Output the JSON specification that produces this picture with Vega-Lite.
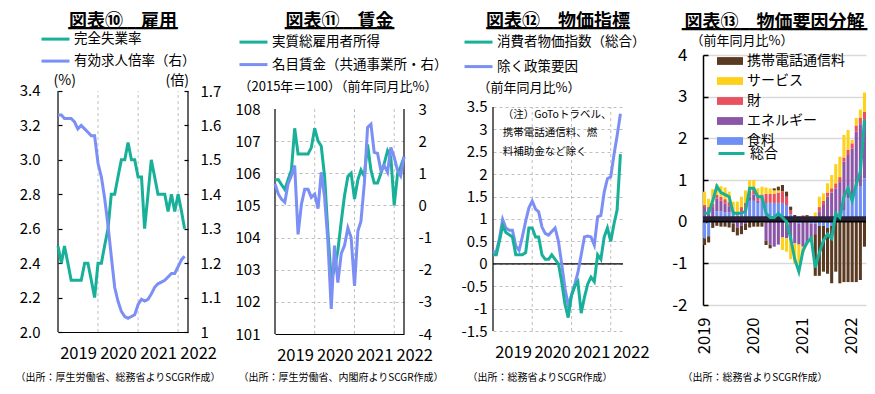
{
 "$schema": "https://vega.github.io/schema/vega-lite/v6.json",
 "padding": {"left": 15, "top": 13, "right": 0, "bottom": 0},
 "background": "white",
 "config": {
  "font": "Noto Sans CJK JP",
  "view": {"stroke": null},
  "axis": {"labelColor": "#000", "titleColor": "#000", "titleFontWeight": "normal", "labelFont": "Noto Sans CJK JP", "titleFont": "Noto Sans CJK JP", "domainColor": "#000", "tickColor": "#000", "titleLimit": 400, "labelLimit": 100, "labelOverlap": false},
  "legend": {"labelColor": "#000", "labelFont": "Noto Sans CJK JP", "labelLimit": 300},
  "title": {"fontSize": 18, "fontWeight": "bold", "color": "#000", "font": "Noto Sans CJK JP", "subtitleFont": "DejaVu Sans Mono", "subtitleFontSize": 14, "subtitleColor": "#000", "subtitlePadding": -9, "anchor": "middle", "frame": "group"},
  "locale": {"number": {"decimal": ".", "thousands": ",", "grouping": [3], "currency": ["", ""], "minus": "-"}}
 },
 "datasets": {
  "emp": [
   {"d":"2019-01-01","u":2.5,"r":1.63},{"d":"2019-02-01","u":2.4,"r":1.63},{"d":"2019-03-01","u":2.5,"r":1.62},{"d":"2019-04-01","u":2.4,"r":1.62},{"d":"2019-05-01","u":2.3,"r":1.62},{"d":"2019-06-01","u":2.3,"r":1.61},{"d":"2019-07-01","u":2.3,"r":1.59},{"d":"2019-08-01","u":2.3,"r":1.6},{"d":"2019-09-01","u":2.4,"r":1.59},{"d":"2019-10-01","u":2.4,"r":1.58},{"d":"2019-11-01","u":2.3,"r":1.57},{"d":"2019-12-01","u":2.2,"r":1.57},
   {"d":"2020-01-01","u":2.4,"r":1.49},{"d":"2020-02-01","u":2.4,"r":1.45},{"d":"2020-03-01","u":2.5,"r":1.39},{"d":"2020-04-01","u":2.6,"r":1.31},{"d":"2020-05-01","u":2.8,"r":1.22},{"d":"2020-06-01","u":2.8,"r":1.13},{"d":"2020-07-01","u":2.9,"r":1.09},{"d":"2020-08-01","u":3.0,"r":1.06},{"d":"2020-09-01","u":3.0,"r":1.045},{"d":"2020-10-01","u":3.1,"r":1.04},{"d":"2020-11-01","u":3.0,"r":1.045},{"d":"2020-12-01","u":3.0,"r":1.05},
   {"d":"2021-01-01","u":2.9,"r":1.08},{"d":"2021-02-01","u":2.9,"r":1.095},{"d":"2021-03-01","u":2.6,"r":1.09},{"d":"2021-04-01","u":2.8,"r":1.095},{"d":"2021-05-01","u":3.0,"r":1.11},{"d":"2021-06-01","u":2.9,"r":1.13},{"d":"2021-07-01","u":2.8,"r":1.14},{"d":"2021-08-01","u":2.8,"r":1.145},{"d":"2021-09-01","u":2.8,"r":1.15},{"d":"2021-10-01","u":2.7,"r":1.16},{"d":"2021-11-01","u":2.8,"r":1.17},{"d":"2021-12-01","u":2.7,"r":1.17},
   {"d":"2022-01-01","u":2.8,"r":1.19},{"d":"2022-02-01","u":2.7,"r":1.21},{"d":"2022-03-01","u":2.6,"r":1.22}
  ],
  "wage": [
   {"d":"2019-01-01","w":105.8,"n":0.67},{"d":"2019-02-01","w":105.8,"n":0.35},{"d":"2019-03-01","w":105.65,"n":0.2},{"d":"2019-04-01","w":105.5,"n":0.1},{"d":"2019-05-01","w":105.8,"n":0.67},{"d":"2019-06-01","w":106.1,"n":0.93},{"d":"2019-07-01","w":107.4,"n":1.24},{"d":"2019-08-01","w":106.6,"n":-0.9},{"d":"2019-09-01","w":106.6,"n":0.04},{"d":"2019-10-01","w":106.6,"n":0.5},{"d":"2019-11-01","w":106.6,"n":0.5},{"d":"2019-12-01","w":106.8,"n":0.25},
   {"d":"2020-01-01","w":107.4,"n":0.35},{"d":"2020-02-01","w":107.0,"n":-0.1},{"d":"2020-03-01","w":106.85,"n":1.03},{"d":"2020-04-01","w":105.9,"n":0.25},{"d":"2020-05-01","w":104.2,"n":-1.1},{"d":"2020-06-01","w":102.7,"n":-3.22},{"d":"2020-07-01","w":103.0,"n":-1.25},{"d":"2020-08-01","w":103.6,"n":-2.4},{"d":"2020-09-01","w":104.5,"n":-1.5},{"d":"2020-10-01","w":105.3,"n":-1.25},{"d":"2020-11-01","w":105.9,"n":-0.7},{"d":"2020-12-01","w":106.0,"n":-1.0},
   {"d":"2021-01-01","w":105.2,"n":-2.5},{"d":"2021-02-01","w":105.8,"n":-0.8},{"d":"2021-03-01","w":106.1,"n":-0.5},{"d":"2021-04-01","w":105.9,"n":0.67},{"d":"2021-05-01","w":106.9,"n":2.43},{"d":"2021-06-01","w":106.1,"n":2.53},{"d":"2021-07-01","w":105.7,"n":1.65},{"d":"2021-08-01","w":105.7,"n":1.62},{"d":"2021-09-01","w":106.0,"n":1.08},{"d":"2021-10-01","w":106.3,"n":1.24},{"d":"2021-11-01","w":106.7,"n":1.03},{"d":"2021-12-01","w":106.5,"n":1.8},
   {"d":"2022-01-01","w":105.0,"n":1.5},{"d":"2022-02-01","w":106.0,"n":1.08},{"d":"2022-03-01","w":106.2,"n":0.92},{"d":"2022-04-01","w":106.5,"n":1.52}
  ],
  "cpi": [
   {"d":"2019-01-01","c":0.2,"p":0.27},{"d":"2019-02-01","c":0.2,"p":0.27},{"d":"2019-03-01","c":0.5,"p":0.55},{"d":"2019-04-01","c":0.85,"p":0.99},{"d":"2019-05-01","c":0.7,"p":0.8},{"d":"2019-06-01","c":0.65,"p":0.75},{"d":"2019-07-01","c":0.6,"p":0.75},{"d":"2019-08-01","c":0.2,"p":0.4},{"d":"2019-09-01","c":0.2,"p":0.3},{"d":"2019-10-01","c":0.2,"p":0.6},{"d":"2019-11-01","c":0.25,"p":0.95},{"d":"2019-12-01","c":0.8,"p":1.25},
   {"d":"2020-01-01","c":0.8,"p":1.4},{"d":"2020-02-01","c":0.6,"p":1.22},{"d":"2020-03-01","c":0.6,"p":1.16},{"d":"2020-04-01","c":0.2,"p":0.82},{"d":"2020-05-01","c":0.1,"p":0.68},{"d":"2020-06-01","c":0.1,"p":0.64},{"d":"2020-07-01","c":0.2,"p":0.72},{"d":"2020-08-01","c":0.1,"p":0.8},{"d":"2020-09-01","c":0.0,"p":0.5},{"d":"2020-10-01","c":-0.4,"p":0.0},{"d":"2020-11-01","c":-0.9,"p":-0.55},{"d":"2020-12-01","c":-1.2,"p":-0.92},
   {"d":"2021-01-01","c":-0.7,"p":-0.7},{"d":"2021-02-01","c":-0.5,"p":-0.45},{"d":"2021-03-01","c":-0.4,"p":-0.2},{"d":"2021-04-01","c":-1.1,"p":0.2},{"d":"2021-05-01","c":-0.75,"p":0.6},{"d":"2021-06-01","c":-0.45,"p":0.62},{"d":"2021-07-01","c":-0.3,"p":0.6},{"d":"2021-08-01","c":-0.4,"p":0.42},{"d":"2021-09-01","c":0.2,"p":1.05},{"d":"2021-10-01","c":0.1,"p":1.08},{"d":"2021-11-01","c":0.6,"p":1.6},{"d":"2021-12-01","c":0.8,"p":1.9},
   {"d":"2022-01-01","c":0.5,"p":1.94},{"d":"2022-02-01","c":0.9,"p":2.45},{"d":"2022-03-01","c":1.2,"p":2.85},{"d":"2022-04-01","c":2.45,"p":3.35}
  ],
  "dec": [
   {"d":"2019-01-01","食料":-0.40,"エネルギー":0.35,"財":0.05,"サービス":0.32,"携帯電話通信料":-0.16},
   {"d":"2019-02-01","食料":-0.35,"エネルギー":0.30,"財":0.05,"サービス":0.20,"携帯電話通信料":-0.15},
   {"d":"2019-03-01","食料":0.05,"エネルギー":0.30,"財":0.08,"サービス":0.35,"携帯電話通信料":-0.15},
   {"d":"2019-04-01","食料":0.25,"エネルギー":0.30,"財":0.10,"サービス":0.25,"携帯電話通信料":-0.10},
   {"d":"2019-05-01","食料":0.25,"エネルギー":0.25,"財":0.10,"サービス":0.25,"携帯電話通信料":-0.12},
   {"d":"2019-06-01","食料":0.22,"エネルギー":0.22,"財":0.10,"サービス":0.28,"携帯電話通信料":-0.12},
   {"d":"2019-07-01","食料":0.22,"エネルギー":0.15,"財":0.10,"サービス":0.25,"携帯電話通信料":-0.14},
   {"d":"2019-08-01","食料":0.18,"エネルギー":-0.05,"財":0.08,"サービス":0.22,"携帯電話通信料":-0.20},
   {"d":"2019-09-01","食料":0.15,"エネルギー":-0.15,"財":0.08,"サービス":0.25,"携帯電話通信料":-0.18},
   {"d":"2019-10-01","食料":0.20,"エネルギー":-0.10,"財":0.15,"サービス":0.25,"携帯電話通信料":-0.20},
   {"d":"2019-11-01","食料":0.25,"エネルギー":-0.05,"財":0.20,"サービス":0.30,"携帯電話通信料":-0.15},
   {"d":"2019-12-01","食料":0.50,"エネルギー":0.10,"財":0.15,"サービス":0.25,"携帯電話通信料":-0.14},
   {"d":"2020-01-01","食料":0.50,"エネルギー":0.15,"財":0.15,"サービス":0.20,"携帯電話通信料":-0.12},
   {"d":"2020-02-01","食料":0.45,"エネルギー":0.05,"財":0.15,"サービス":0.15,"携帯電話通信料":-0.12},
   {"d":"2020-03-01","食料":0.50,"エネルギー":-0.02,"財":0.15,"サービス":0.19,"携帯電話通信料":-0.10},
   {"d":"2020-04-01","食料":0.45,"エネルギー":-0.45,"財":0.22,"サービス":0.15,"携帯電話通信料":-0.11},
   {"d":"2020-05-01","食料":0.45,"エネルギー":-0.55,"財":0.22,"サービス":0.13,"携帯電話通信料":-0.09},
   {"d":"2020-06-01","食料":0.45,"エネルギー":-0.60,"財":0.22,"サービス":0.08,"携帯電話通信料":0.05},
   {"d":"2020-07-01","食料":0.45,"エネルギー":-0.55,"財":0.25,"サービス":0.05,"携帯電話通信料":0.09},
   {"d":"2020-08-01","食料":0.45,"エネルギー":-0.38,"財":0.28,"サービス":-0.30,"携帯電話通信料":0.15},
   {"d":"2020-09-01","食料":0.40,"エネルギー":-0.40,"財":0.20,"サービス":-0.32,"携帯電話通信料":0.12},
   {"d":"2020-10-01","食料":0.18,"エネルギー":-0.45,"財":0.10,"サービス":-0.45,"携帯電話通信料":0.08},
   {"d":"2020-11-01","食料":-0.02,"エネルギー":-0.50,"財":0.10,"サービス":-0.50,"携帯電話通信料":0.06},
   {"d":"2020-12-01","食料":-0.05,"エネルギー":-0.50,"財":0.08,"サービス":-0.45,"携帯電話通信料":0.04},
   {"d":"2021-01-01","食料":0.05,"エネルギー":-0.60,"財":0.10,"サービス":-0.15,"携帯電話通信料":0.0},
   {"d":"2021-02-01","食料":0.0,"エネルギー":-0.50,"財":0.14,"サービス":-0.05,"携帯電話通信料":0.02},
   {"d":"2021-03-01","食料":-0.05,"エネルギー":-0.35,"財":0.12,"サービス":-0.08,"携帯電話通信料":0.0},
   {"d":"2021-04-01","食料":-0.05,"エネルギー":-0.25,"財":0.10,"サービス":0.12,"携帯電話通信料":-1.00},
   {"d":"2021-05-01","食料":-0.10,"エネルギー":0.25,"財":0.10,"サービス":0.25,"携帯電話通信料":-1.20},
   {"d":"2021-06-01","食料":-0.10,"エネルギー":0.40,"財":0.10,"サービス":0.18,"携帯電話通信料":-1.10},
   {"d":"2021-07-01","食料":-0.15,"エネルギー":0.60,"財":0.10,"サービス":0.22,"携帯電話通信料":-1.10},
   {"d":"2021-08-01","食料":-0.10,"エネルギー":0.70,"財":0.10,"サービス":0.32,"携帯電話通信料":-1.38},
   {"d":"2021-09-01","食料":0.05,"エネルギー":0.75,"財":0.12,"サービス":0.46,"携帯電話通信料":-1.20},
   {"d":"2021-10-01","食料":0.10,"エネルギー":0.85,"財":0.12,"サービス":0.49,"携帯電話通信料":-1.48},
   {"d":"2021-11-01","食料":0.28,"エネルギー":1.16,"財":0.10,"サービス":0.54,"携帯電話通信料":-1.45},
   {"d":"2021-12-01","食料":0.56,"エネルギー":1.04,"財":0.12,"サービス":0.48,"携帯電話通信料":-1.45},
   {"d":"2022-01-01","食料":0.64,"エネルギー":1.12,"財":0.12,"サービス":0.08,"携帯電話通信料":-1.45},
   {"d":"2022-02-01","食料":0.88,"エネルギー":1.28,"財":0.15,"サービス":0.18,"携帯電話通信料":-1.45},
   {"d":"2022-03-01","食料":0.84,"エネルギー":1.50,"財":0.16,"サービス":0.19,"携帯電話通信料":-1.40},
   {"d":"2022-04-01","食料":1.04,"エネルギー":1.42,"財":0.18,"サービス":0.46,"携帯電話通信料":-0.60}
  ]
 },
 "spacing": 0,
 "bounds": "flush",
 "resolve": {"scale": {"color": "independent", "stroke": "independent"}, "legend": {"color": "independent", "stroke": "independent"}},
 "hconcat": [
  {
   "width": 130, "height": 277,
   "title": {"text": "図表⑩　雇用", "subtitle": "━━━━━━━━━━━━━", "offset": -12.6},
   "layer": [
    {"data": {"values": [{"d": "2020-01-01"}, {"d": "2021-01-01"}, {"d": "2022-01-01"}]},
     "mark": {"type": "rule", "color": "#BFBFBF", "strokeDash": [3, 3], "strokeWidth": 1},
     "encoding": {"x": {"field": "d", "type": "temporal"}, "y": {"datum": 2.0, "scale": {"domain": [2.0, 3.609], "nice": false, "zero": false}, "axis": null}, "y2": {"datum": 3.4}}},
    {"data": {"values": [{"d": "2019-01-01"}, {"d": "2022-04-01"}]},
     "mark": {"type": "rule", "color": "#000", "strokeWidth": 1.2},
     "encoding": {"x": {"field": "d", "type": "temporal"}, "y": {"datum": 2.0, "scale": {"domain": [2.0, 3.609], "nice": false, "zero": false}, "axis": null}, "y2": {"datum": 3.4}}},
    {"data": {"name": "emp"},
     "mark": {"type": "line", "strokeWidth": 3},
     "encoding": {
      "x": {"field": "d", "type": "temporal",
            "scale": {"type": "utc", "domain": [{"year": 2019, "month": 1, "date": 1, "utc": true}, {"year": 2022, "month": 4, "date": 1, "utc": true}]},
            "axis": {"values": [{"year": 2019, "month": 1, "date": 1, "utc": true}, {"year": 2020, "month": 1, "date": 1, "utc": true}, {"year": 2021, "month": 1, "date": 1, "utc": true}, {"year": 2022, "month": 1, "date": 1, "utc": true}],
                     "format": "%Y", "labelFontSize": 16.5, "labelPadding": 13, "labelOffset": 20, "labelFlush": false, "labelOverlap": false, "labelBound": false, "ticks": false, "grid": false, "domain": true, "domainWidth": 1.2,
                     "title": "（出所：厚生労働省、総務省よりSCGR作成）", "titleFontSize": 10, "titleX": -43, "titleY": 45, "titleAlign": "left", "titleBaseline": "middle"}},
      "y": {"field": "u", "type": "quantitative", "scale": {"domain": [2.0, 3.609], "nice": false, "zero": false},
            "axis": {"orient": "left", "values": [2.0, 2.2, 2.4, 2.6, 2.8, 3.0, 3.2, 3.4], "format": ".1f", "labelFontSize": 15, "labelPadding": 22, "labelOverlap": false, "ticks": true, "tickSize": -4, "tickWidth": 1.2, "domain": false, "grid": false,
                     "title": "(%)", "titleAngle": 0, "titleX": -5, "titleY": 25, "titleAlign": "left", "titleBaseline": "middle", "titleFontSize": 14}},
      "color": {"datum": "完全失業率", "type": "nominal",
                "scale": {"domain": ["完全失業率", "有効求人倍率（右）"], "range": ["#19B09A", "#7B8FF5"]},
                "legend": {"orient": "none", "legendX": -18, "legendY": -31.4, "title": null, "symbolType": "stroke", "symbolSize": 784, "symbolStrokeWidth": 3, "labelFontSize": 13.5, "labelOffset": 3, "rowPadding": -2.5, "padding": 0, "direction": "vertical"}}
     }},
    {"data": {"name": "emp"},
     "mark": {"type": "line", "strokeWidth": 3},
     "encoding": {
      "x": {"field": "d", "type": "temporal"},
      "y": {"field": "r", "type": "quantitative", "scale": {"domain": [1.0, 1.8046], "nice": false, "zero": false},
            "axis": {"orient": "right", "values": [1.0, 1.1, 1.2, 1.3, 1.4, 1.5, 1.6, 1.7], "format": ".1~f", "labelFontSize": 15, "labelPadding": 16, "labelOverlap": false, "ticks": true, "tickSize": -4, "tickWidth": 1.2, "domain": false, "grid": false,
                     "title": "(倍)", "titleAngle": 0, "titleX": -23, "titleY": 25, "titleAlign": "left", "titleBaseline": "middle", "titleFontSize": 14}},
      "color": {"datum": "有効求人倍率（右）", "type": "nominal"}
     }}
   ],
   "resolve": {"scale": {"y": "independent"}, "axis": {"y": "independent"}}
  },
  {"width": 87, "height": 10, "data": {"values": []}, "mark": "point", "encoding": {}},
  {
   "width": 129, "height": 279,
   "title": {"text": "図表⑪　賃金", "subtitle": "━━━━━━━━━━━━━", "offset": -9.6},
   "layer": [
    {"data": {"values": [{"d": "2020-01-01"}, {"d": "2021-01-01"}, {"d": "2022-01-01"}]},
     "mark": {"type": "rule", "color": "#BFBFBF", "strokeDash": [3, 3], "strokeWidth": 1},
     "encoding": {"x": {"field": "d", "type": "temporal"}, "y": {"datum": 101, "scale": {"domain": [101, 109.68], "nice": false, "zero": false}, "axis": null}, "y2": {"datum": 108}}},
    {"data": {"values": [{"d": "2019-01-01"}, {"d": "2022-04-01"}]},
     "mark": {"type": "rule", "color": "#000", "strokeWidth": 1.2},
     "encoding": {"x": {"field": "d", "type": "temporal"}, "y": {"datum": 101, "scale": {"domain": [101, 109.68], "nice": false, "zero": false}, "axis": null}, "y2": {"datum": 108}}},
    {"data": {"name": "wage"},
     "mark": {"type": "line", "strokeWidth": 3},
     "encoding": {
      "x": {"field": "d", "type": "temporal",
            "scale": {"type": "utc", "domain": [{"year": 2019, "month": 1, "date": 1, "utc": true}, {"year": 2022, "month": 4, "date": 1, "utc": true}]},
            "axis": {"values": [{"year": 2019, "month": 1, "date": 1, "utc": true}, {"year": 2020, "month": 1, "date": 1, "utc": true}, {"year": 2021, "month": 1, "date": 1, "utc": true}, {"year": 2022, "month": 1, "date": 1, "utc": true}],
                     "format": "%Y", "labelFontSize": 16.5, "labelPadding": 13, "labelOffset": 20, "labelFlush": false, "labelOverlap": false, "labelBound": false, "ticks": false, "grid": false, "domain": true, "domainWidth": 1.2,
                     "title": "（出所：厚生労働省、内閣府よりSCGR作成）", "titleFontSize": 10, "titleX": -37, "titleY": 43, "titleAlign": "left", "titleBaseline": "middle"}},
      "y": {"field": "w", "type": "quantitative", "scale": {"domain": [101, 109.68], "nice": false, "zero": false},
            "axis": {"orient": "left", "values": [101, 102, 103, 104, 105, 106, 107, 108], "format": "d", "labelFontSize": 15, "labelPadding": 15, "labelOverlap": false, "ticks": false, "domain": false,
                     "grid": true, "gridColor": "#BFBFBF", "gridDash": [3, 3], "gridOpacity": {"condition": {"test": "datum.value == 108 || datum.value == 101", "value": 0}, "value": 1},
                     "title": "（2015年＝100）（前年同月比%）", "titleAngle": 0, "titleX": -37, "titleY": 31, "titleAlign": "left", "titleBaseline": "middle", "titleFontSize": 13}},
      "color": {"datum": "実質総雇用者所得", "type": "nominal",
                "scale": {"domain": ["実質総雇用者所得", "名目賃金（共通事業所・右）"], "range": ["#19B09A", "#7B8FF5"]},
                "legend": {"orient": "none", "legendX": -37, "legendY": -28.4, "title": null, "symbolType": "stroke", "symbolSize": 784, "symbolStrokeWidth": 3, "labelFontSize": 13.5, "labelOffset": 3, "rowPadding": 0.5, "padding": 0, "direction": "vertical"}}
     }},
    {"data": {"name": "wage"},
     "mark": {"type": "line", "strokeWidth": 3},
     "encoding": {
      "x": {"field": "d", "type": "temporal"},
      "y": {"field": "n", "type": "quantitative", "scale": {"domain": [-4, 4.68], "nice": false, "zero": false},
            "axis": {"orient": "right", "values": [-4, -3, -2, -1, 0, 1, 2, 3], "format": "d", "labelFontSize": 15, "labelPadding": 14, "labelOverlap": false, "ticks": false, "domain": false, "grid": false, "title": null}},
      "color": {"datum": "名目賃金（共通事業所・右）", "type": "nominal"}
     }}
   ],
   "resolve": {"scale": {"y": "independent"}, "axis": {"y": "independent"}}
  },
  {"width": 89, "height": 10, "data": {"values": []}, "mark": "point", "encoding": {}},
  {
   "width": 130, "height": 276,
   "title": {"text": "図表⑫　物価指標", "subtitle": "━━━━━━━━━━━━━━━━━", "offset": -9.6},
   "layer": [
    {"data": {"values": [{"d": "2020-01-01"}, {"d": "2021-01-01"}, {"d": "2022-01-01"}]},
     "mark": {"type": "rule", "color": "#BFBFBF", "strokeDash": [3, 3], "strokeWidth": 1},
     "encoding": {"x": {"field": "d", "type": "temporal"}, "y": {"datum": -1.5, "scale": {"domain": [-1.5, 4.6607], "nice": false, "zero": false}, "axis": null}, "y2": {"datum": 3.5}}},
    {"data": {"values": [{"d": "2019-01-01"}]},
     "mark": {"type": "rule", "color": "#000", "strokeWidth": 1.2},
     "encoding": {"x": {"field": "d", "type": "temporal"}, "y": {"datum": -1.5, "scale": {"domain": [-1.5, 4.6607], "nice": false, "zero": false}, "axis": null}, "y2": {"datum": 3.5}}},
    {"data": {"values": [{}]},
     "mark": {"type": "rule", "color": "#000", "strokeWidth": 1.2},
     "encoding": {"y": {"datum": 0, "scale": {"domain": [-1.5, 4.6607], "nice": false, "zero": false}, "axis": null}}},
    {"data": {"name": "cpi"},
     "mark": {"type": "line", "strokeWidth": 3},
     "encoding": {
      "x": {"field": "d", "type": "temporal",
            "scale": {"type": "utc", "domain": [{"year": 2019, "month": 1, "date": 1, "utc": true}, {"year": 2022, "month": 4, "date": 25, "utc": true}]},
            "axis": {"values": [{"year": 2019, "month": 1, "date": 1, "utc": true}, {"year": 2020, "month": 1, "date": 1, "utc": true}, {"year": 2021, "month": 1, "date": 1, "utc": true}, {"year": 2022, "month": 1, "date": 1, "utc": true}],
                     "format": "%Y", "labelFontSize": 16.5, "labelPadding": 13, "labelOffset": 20, "labelFlush": false, "labelOverlap": false, "labelBound": false, "ticks": false, "grid": false, "domain": false,
                     "title": "（出所：総務省よりSCGR作成）", "titleFontSize": 10, "titleX": -26, "titleY": 46, "titleAlign": "left", "titleBaseline": "middle"}},
      "y": {"field": "p", "type": "quantitative", "scale": {"domain": [-1.5, 4.6607], "nice": false, "zero": false},
            "axis": {"orient": "left", "values": [-1.5, -1, -0.5, 0, 0.5, 1, 1.5, 2, 2.5, 3, 3.5], "format": ".1~f", "labelFontSize": 15, "labelPadding": 6, "labelOverlap": false, "ticks": false, "domain": false,
                     "grid": true, "gridColor": "#BFBFBF", "gridDash": [3, 3],
                     "title": "（前年同月比%）", "titleAngle": 0, "titleX": -16, "titleY": 32, "titleAlign": "left", "titleBaseline": "middle", "titleFontSize": 13}},
      "color": {"datum": "除く政策要因", "type": "nominal",
                "scale": {"domain": ["消費者物価指数（総合）", "除く政策要因"], "range": ["#19B09A", "#7B8FF5"]},
                "legend": {"orient": "none", "legendX": -30, "legendY": -28.4, "title": null, "symbolType": "stroke", "symbolSize": 784, "symbolStrokeWidth": 3, "labelFontSize": 13.5, "labelOffset": 3, "rowPadding": 2.5, "padding": 0, "direction": "vertical"}}
     }},
    {"data": {"name": "cpi"},
     "mark": {"type": "line", "strokeWidth": 3},
     "encoding": {
      "x": {"field": "d", "type": "temporal"},
      "y": {"field": "c", "type": "quantitative", "scale": {"domain": [-1.5, 4.6607], "nice": false, "zero": false}, "axis": null},
      "color": {"datum": "消費者物価指数（総合）", "type": "nominal"}
     }},
    {"data": {"values": [{}]},
     "mark": {"type": "text", "align": "left", "baseline": "top", "fontSize": 10.5, "lineHeight": 18.5, "color": "#000"},
     "encoding": {
      "x": {"datum": {"year": 2019, "month": 4, "date": 1, "utc": true}, "type": "temporal"},
      "y": {"datum": 3.444, "scale": {"domain": [-1.5, 4.6607], "nice": false, "zero": false}, "axis": null},
      "text": {"value": ["（注）GoToトラベル、", "携帯電話通信料、燃", "料補助金など除く"]}
     }}
   ],
   "resolve": {"scale": {"y": "independent"}, "axis": {"y": "independent"}}
  },
  {"width": 80, "height": 10, "data": {"values": []}, "mark": "point", "encoding": {}},
  {
   "width": 163, "height": 250,
   "title": {"text": "図表⑬　物価要因分解", "subtitle": "━━━━━━━━━━━━━━━━━━━━━━", "offset": -2.6, "dx": -10},
   "layer": [
    {"data": {"name": "dec"},
     "transform": [{"fold": ["食料", "エネルギー", "財", "サービス", "携帯電話通信料"], "as": ["k", "v"]}],
     "mark": {"type": "bar"},
     "encoding": {
      "x": {"field": "d", "timeUnit": "utcyearmonth", "type": "ordinal", "scale": {"paddingInner": 0.25, "paddingOuter": 0},
            "axis": {"labelExpr": "utcmonth(datum.value) == 0 ? utcFormat(datum.value, '%Y') : ''", "labelAngle": -90, "labelFontSize": 16.5, "labelPadding": 12, "labelOverlap": false, "ticks": false, "domain": false, "grid": false,
                     "title": "（出所：総務省よりSCGR作成）", "titleFontSize": 10, "titleX": -21, "titleY": 72, "titleAlign": "left", "titleBaseline": "middle"}},
      "y": {"field": "v", "type": "quantitative", "stack": "zero", "scale": {"domain": [-2, 4], "nice": false},
            "axis": {"values": [-2, -1, 0, 1, 2, 3, 4], "format": "d", "labelFontSize": 17, "labelPadding": 21, "labelOverlap": false, "ticks": true, "tickSize": -5, "tickWidth": 1.5, "domain": true, "domainWidth": 1.5,
                     "grid": true, "gridColor": "#D9D9D9", "gridWidth": 1.5, "gridOpacity": {"condition": {"test": "datum.value == 0", "value": 0}, "value": 1},
                     "title": "（前年同月比%）", "titleAngle": 0, "titleX": -13, "titleY": -15, "titleAlign": "left", "titleBaseline": "middle", "titleFontSize": 13}},
      "color": {"field": "k", "type": "nominal",
                "scale": {"domain": ["携帯電話通信料", "サービス", "財", "エネルギー", "食料"], "range": ["#5B3A22", "#FFD11A", "#EA5160", "#8B55A8", "#6F8FF5"]},
                "legend": {"orient": "none", "legendX": 14, "legendY": -7, "title": null, "symbolType": "M-1,-0.3H1V0.3H-1Z", "symbolSize": 676, "symbolStrokeWidth": 0, "labelFontSize": 14, "labelOffset": 4, "rowPadding": -1.9, "padding": 0, "direction": "vertical"}},
      "order": {"field": "d", "type": "temporal"}
     }},
    {"data": {"values": [{}]},
     "mark": {"type": "rule", "color": "#2A2236", "strokeWidth": 5.4},
     "encoding": {"y": {"datum": 0.065}}},
    {"data": {"values": [{}]},
     "mark": {"type": "rule", "color": "#000", "strokeWidth": 1.8},
     "encoding": {"y": {"datum": 0}}},
    {"data": {"name": "cpi"},
     "mark": {"type": "line", "strokeWidth": 3},
     "encoding": {
      "x": {"field": "d", "timeUnit": "utcyearmonth", "type": "ordinal"},
      "y": {"field": "c", "type": "quantitative"},
      "stroke": {"datum": "総合", "type": "nominal", "scale": {"range": ["#19B09A"]},
                 "legend": {"orient": "none", "legendX": 14, "legendY": 84, "title": null, "symbolType": "stroke", "symbolSize": 676, "symbolStrokeWidth": 3, "labelFontSize": 14, "labelOffset": 4, "padding": 0}}
     }}
   ]
  }
 ]
}
